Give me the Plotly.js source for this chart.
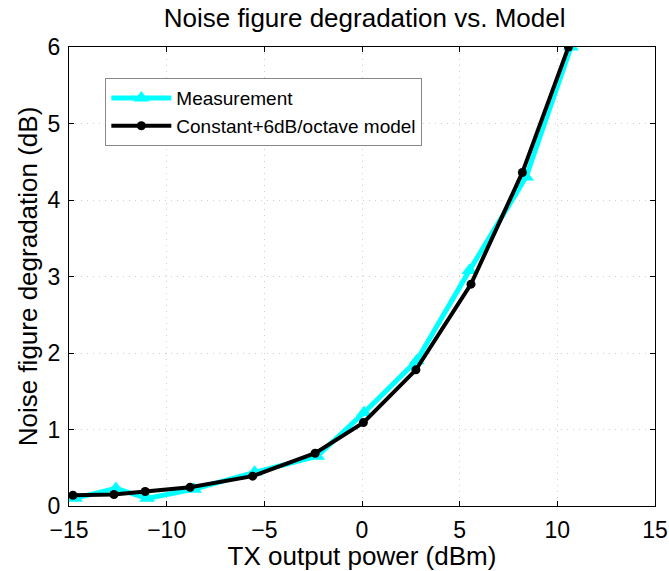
<!DOCTYPE html>
<html>
<head>
<meta charset="utf-8">
<script src="https://cdn.plot.ly/plotly-3.0.1.min.js"></script>
<style>html,body{margin:0;padding:0;background:#fff;}#chart{width:669px;height:571px;}</style>
</head>
<body>
<div id="chart"></div>
<script>
var measX = [-14.7, -12.6, -11.0, -8.6, -5.5, -2.3, 0.1, 2.8, 5.5, 8.4, 10.7];
var measY = [0.10, 0.23, 0.10, 0.22, 0.44, 0.65, 1.22, 1.90, 3.08, 4.30, 6.00];
var modelX = [-14.8, -12.7, -11.1, -8.8, -5.6, -2.4, 0.07, 2.76, 5.58, 8.21, 10.57];
var modelY = [0.14, 0.15, 0.19, 0.245, 0.39, 0.69, 1.09, 1.78, 2.90, 4.36, 6.00];
var xTicks = [-15, -10, -5, 0, 5, 10, 15];
var yTicks = [0, 1, 2, 3, 4, 5, 6];
var xTickText = ['\u221215', '\u221210', '\u22125', '0', '5', '10', '15'];

var font = 'Liberation Sans, Arial, Helvetica, sans-serif';
var traces = [
  {x: measX, y: measY, name: 'Measurement', mode: 'lines+markers',
   line: {color: '#00ffff', width: 5},
   marker: {symbol: 'triangle-up', size: 14, color: '#00ffff'}},
  {x: modelX, y: modelY, name: 'Constant+6dB/octave model', mode: 'lines+markers',
   line: {color: '#000000', width: 4},
   marker: {symbol: 'circle', size: 9, color: '#000000'}}
];
var axisCommon = {
  showline: true, mirror: 'ticks', linecolor: '#000', linewidth: 1,
  ticks: 'inside', ticklen: 5, tickcolor: '#000',
  showgrid: true, gridcolor: '#cfcfcf', griddash: '1px,5px', gridwidth: 1,
  zeroline: false, tickfont: {family: font, size: 23, color: '#000'}
};
var layout = {
  width: 669, height: 571,
  margin: {l: 69, r: 14, t: 47, b: 65},
  paper_bgcolor: '#fff', plot_bgcolor: '#fff',
  title: {text: 'Noise figure degradation vs. Model', x: 0.545, xanchor: 'center', y: 0.968, yanchor: 'middle',
          font: {family: font, size: 26, color: '#000'}},
  xaxis: Object.assign({}, axisCommon, {range: [-15, 15], tickvals: xTicks, ticktext: xTickText,
          ticklabelstandoff: 3,
          title: {text: 'TX output power (dBm)', standoff: 0, font: {family: font, size: 26, color: '#000'}}}),
  yaxis: Object.assign({}, axisCommon, {range: [0, 6], tickvals: yTicks, ticklabelstandoff: 3,
          title: {text: 'Noise figure degradation (dB)', standoff: 2, font: {family: font, size: 26, color: '#000'}}}),
  showlegend: true,
  legend: {x: 0.062, y: 0.932, xanchor: 'left', yanchor: 'top', bgcolor: '#fff',
           bordercolor: '#888', borderwidth: 1, font: {family: font, size: 19, color: '#000'},
           tracegroupgap: 0, itemwidth: 60}
};
Plotly.newPlot('chart', traces, layout, {displayModeBar: false, staticPlot: true});
</script>
</body>
</html>
